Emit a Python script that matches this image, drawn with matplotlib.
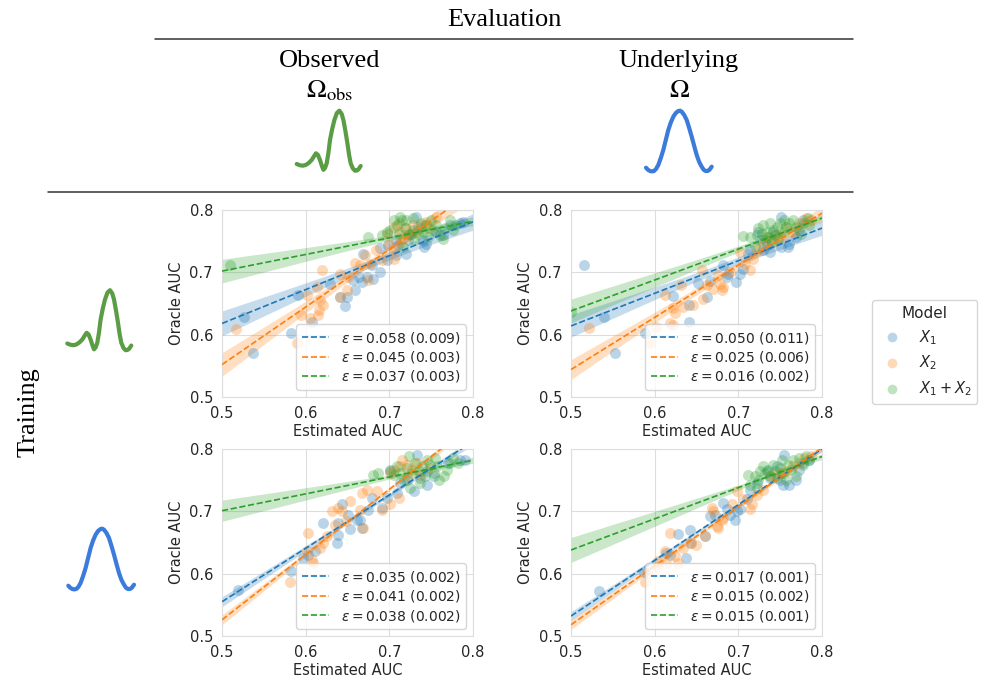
import numpy as np
import matplotlib
matplotlib.use('Agg')
import matplotlib.pyplot as plt
import seaborn as sns
from matplotlib.lines import Line2D

sns.set_style('whitegrid')
plt.rcParams['font.family'] = ['DejaVu Sans']

W, H = 989, 682

# ---- scatter data: estimated AUC (x) vs oracle AUC (y) per panel / model ----
# top-left: train observed, eval observed
tl_x1_est = [0.526, 0.537, 0.583, 0.591, 0.608, 0.629, 0.641, 0.647, 0.649, 0.657, 0.659, 0.664, 0.667,
             0.669, 0.673, 0.679, 0.681, 0.689, 0.689, 0.697, 0.699, 0.708, 0.708, 0.710, 0.720, 0.722,
             0.726, 0.732, 0.734, 0.740, 0.742, 0.744, 0.756, 0.764, 0.772, 0.784, 0.788]
tl_x1_orc = [0.628, 0.571, 0.602, 0.664, 0.620, 0.682, 0.661, 0.646, 0.661, 0.687, 0.671, 0.693, 0.685,
             0.730, 0.693, 0.712, 0.690, 0.701, 0.739, 0.720, 0.744, 0.728, 0.752, 0.744, 0.730, 0.752,
             0.762, 0.789, 0.773, 0.752, 0.741, 0.746, 0.765, 0.760, 0.776, 0.779, 0.781]
tl_x2_est = [0.517, 0.590, 0.594, 0.601, 0.605, 0.615, 0.616, 0.617, 0.620, 0.621, 0.613, 0.641, 0.641,
             0.649, 0.651, 0.659, 0.665, 0.671, 0.675, 0.677, 0.684, 0.691, 0.697, 0.700, 0.705, 0.706,
             0.706, 0.711, 0.713, 0.713, 0.716, 0.720, 0.722, 0.728, 0.732, 0.738, 0.744, 0.748, 0.756]
tl_x2_orc = [0.609, 0.586, 0.631, 0.663, 0.626, 0.631, 0.639, 0.655, 0.704, 0.647, 0.677, 0.698, 0.660,
             0.672, 0.693, 0.715, 0.712, 0.728, 0.688, 0.714, 0.736, 0.720, 0.762, 0.746, 0.773, 0.722,
             0.736, 0.779, 0.765, 0.749, 0.754, 0.771, 0.760, 0.776, 0.765, 0.776, 0.781, 0.771, 0.789]
tl_x12_est = [0.509, 0.675, 0.691, 0.697, 0.701, 0.705, 0.709, 0.711, 0.713, 0.715, 0.716, 0.719, 0.720,
              0.724, 0.728, 0.728, 0.730, 0.734, 0.738, 0.740, 0.744, 0.746, 0.750, 0.752, 0.756, 0.760,
              0.764, 0.766, 0.772, 0.776, 0.778]
tl_x12_orc = [0.712, 0.757, 0.760, 0.765, 0.768, 0.784, 0.776, 0.762, 0.789, 0.784, 0.741, 0.771, 0.784,
              0.762, 0.768, 0.787, 0.752, 0.762, 0.779, 0.765, 0.776, 0.757, 0.784, 0.768, 0.776, 0.760,
              0.754, 0.771, 0.784, 0.768, 0.776]

# top-right: train observed, eval underlying
tr_x1_est = [0.515, 0.540, 0.552, 0.588, 0.622, 0.641, 0.641, 0.652, 0.662, 0.666, 0.682, 0.686, 0.688,
             0.697, 0.702, 0.706, 0.712, 0.714, 0.724, 0.726, 0.730, 0.734, 0.738, 0.742, 0.751, 0.751,
             0.759, 0.761, 0.769, 0.773, 0.777]
tr_x1_orc = [0.712, 0.628, 0.571, 0.602, 0.662, 0.647, 0.620, 0.683, 0.661, 0.686, 0.712, 0.693, 0.698,
             0.685, 0.698, 0.706, 0.730, 0.736, 0.765, 0.752, 0.736, 0.744, 0.733, 0.765, 0.789, 0.741,
             0.741, 0.746, 0.757, 0.768, 0.784]
tr_x2_est = [0.522, 0.595, 0.602, 0.612, 0.618, 0.622, 0.624, 0.622, 0.632, 0.634, 0.646, 0.657, 0.658,
             0.662, 0.670, 0.676, 0.678, 0.680, 0.682, 0.690, 0.702, 0.708, 0.714, 0.717, 0.722, 0.730,
             0.734, 0.738, 0.746, 0.750, 0.757, 0.765, 0.773, 0.781, 0.787]
tr_x2_orc = [0.610, 0.586, 0.612, 0.663, 0.619, 0.615, 0.634, 0.642, 0.679, 0.645, 0.647, 0.704, 0.658,
             0.679, 0.674, 0.696, 0.682, 0.671, 0.677, 0.700, 0.733, 0.714, 0.704, 0.722, 0.736, 0.746,
             0.757, 0.752, 0.762, 0.757, 0.773, 0.765, 0.779, 0.787, 0.784]
tr_x12_est = [0.500, 0.706, 0.714, 0.720, 0.722, 0.724, 0.728, 0.730, 0.732, 0.734, 0.736, 0.738, 0.740,
              0.742, 0.744, 0.746, 0.748, 0.750, 0.754, 0.755, 0.757, 0.761, 0.765, 0.769, 0.775, 0.777,
              0.783, 0.785]
tr_x12_orc = [0.637, 0.758, 0.757, 0.743, 0.760, 0.771, 0.762, 0.776, 0.752, 0.765, 0.757, 0.779, 0.749,
              0.768, 0.760, 0.773, 0.754, 0.779, 0.765, 0.784, 0.773, 0.779, 0.784, 0.773, 0.762, 0.779,
              0.787, 0.776]

# bottom-left: train underlying, eval observed
bl_x1_est = [0.519, 0.583, 0.597, 0.603, 0.611, 0.621, 0.637, 0.639, 0.639, 0.643, 0.651, 0.653, 0.661,
             0.665, 0.667, 0.675, 0.679, 0.691, 0.697, 0.701, 0.709, 0.713, 0.721, 0.729, 0.733, 0.737,
             0.745, 0.745, 0.753, 0.770, 0.784, 0.790]
bl_x1_orc = [0.573, 0.604, 0.625, 0.630, 0.637, 0.682, 0.649, 0.662, 0.681, 0.712, 0.694, 0.671, 0.686,
             0.686, 0.673, 0.702, 0.721, 0.705, 0.721, 0.764, 0.729, 0.745, 0.751, 0.732, 0.791, 0.753,
             0.764, 0.743, 0.756, 0.778, 0.783, 0.782]
bl_x2_est = [0.581, 0.601, 0.603, 0.607, 0.609, 0.617, 0.621, 0.625, 0.631, 0.635, 0.639, 0.643, 0.648,
             0.653, 0.665, 0.667, 0.669, 0.673, 0.685, 0.691, 0.701, 0.701, 0.705, 0.711, 0.713, 0.715,
             0.721, 0.721, 0.727, 0.733, 0.737, 0.749]
bl_x2_orc = [0.587, 0.636, 0.666, 0.622, 0.617, 0.641, 0.649, 0.660, 0.700, 0.678, 0.705, 0.700, 0.684,
             0.716, 0.702, 0.730, 0.673, 0.735, 0.732, 0.702, 0.711, 0.761, 0.767, 0.721, 0.772, 0.783,
             0.775, 0.756, 0.767, 0.778, 0.759, 0.769]
bl_x12_est = [0.681, 0.687, 0.701, 0.705, 0.709, 0.713, 0.717, 0.721, 0.723, 0.725, 0.727, 0.731, 0.735,
              0.737, 0.739, 0.743, 0.745, 0.749, 0.753, 0.755, 0.757, 0.759, 0.765, 0.769, 0.772, 0.776,
              0.782]
bl_x12_orc = [0.759, 0.761, 0.767, 0.759, 0.772, 0.761, 0.751, 0.769, 0.788, 0.737, 0.761, 0.778, 0.764,
              0.745, 0.772, 0.756, 0.783, 0.775, 0.761, 0.786, 0.772, 0.751, 0.756, 0.767, 0.778, 0.786,
              0.778]

# bottom-right: train underlying, eval underlying
br_x1_est = [0.533, 0.587, 0.614, 0.618, 0.628, 0.638, 0.642, 0.644, 0.660, 0.666, 0.672, 0.682, 0.686,
             0.690, 0.696, 0.698, 0.702, 0.710, 0.714, 0.722, 0.734, 0.738, 0.746, 0.750, 0.753, 0.755,
             0.761, 0.769, 0.773, 0.777, 0.785]
br_x1_orc = [0.572, 0.603, 0.633, 0.630, 0.664, 0.625, 0.670, 0.649, 0.660, 0.692, 0.694, 0.713, 0.703,
             0.694, 0.686, 0.700, 0.703, 0.719, 0.735, 0.745, 0.764, 0.753, 0.772, 0.751, 0.743, 0.791,
             0.743, 0.751, 0.767, 0.778, 0.782]
br_x2_est = [0.589, 0.591, 0.603, 0.604, 0.612, 0.614, 0.618, 0.624, 0.628, 0.634, 0.642, 0.649, 0.660,
             0.668, 0.670, 0.674, 0.676, 0.680, 0.682, 0.692, 0.698, 0.706, 0.714, 0.716, 0.722, 0.730,
             0.738, 0.746, 0.751, 0.757, 0.765, 0.773, 0.779, 0.787]
br_x2_orc = [0.587, 0.601, 0.611, 0.620, 0.636, 0.617, 0.665, 0.628, 0.617, 0.641, 0.649, 0.646, 0.660,
             0.705, 0.700, 0.676, 0.673, 0.686, 0.689, 0.711, 0.732, 0.719, 0.703, 0.711, 0.727, 0.735,
             0.756, 0.759, 0.761, 0.764, 0.772, 0.778, 0.786, 0.788]
br_x12_est = [0.712, 0.714, 0.720, 0.722, 0.724, 0.726, 0.730, 0.732, 0.736, 0.738, 0.742, 0.744, 0.746,
              0.750, 0.752, 0.753, 0.757, 0.759, 0.763, 0.765, 0.769, 0.773, 0.777, 0.781, 0.785]
br_x12_orc = [0.759, 0.743, 0.756, 0.737, 0.751, 0.764, 0.772, 0.761, 0.767, 0.756, 0.775, 0.764, 0.753,
              0.770, 0.783, 0.761, 0.751, 0.775, 0.767, 0.783, 0.756, 0.786, 0.775, 0.788, 0.783]

# regression lines: oracle AUC at estimated 0.5 and 0.8 (X1, X2, X1+X2)
tl_fit = [(0.618, 0.781), (0.552, 0.829), (0.702, 0.782)]
tr_fit = [(0.614, 0.771), (0.544, 0.795), (0.638, 0.787)]
bl_fit = [(0.555, 0.812), (0.526, 0.840), (0.701, 0.782)]
br_fit = [(0.532, 0.800), (0.518, 0.802), (0.638, 0.788)]
# half width of the confidence band at estimated AUC 0.5
tl_band = [0.020, 0.019, 0.019]
tr_band = [0.018, 0.016, 0.019]
bl_band = [0.008, 0.008, 0.017]
br_band = [0.007, 0.0075, 0.020]

tl_eps = ['0.058 (0.009)', '0.045 (0.003)', '0.037 (0.003)']
tr_eps = ['0.050 (0.011)', '0.025 (0.006)', '0.016 (0.002)']
bl_eps = ['0.035 (0.002)', '0.041 (0.002)', '0.038 (0.002)']
br_eps = ['0.017 (0.001)', '0.015 (0.002)', '0.015 (0.001)']

models = ['$X_1$', '$X_2$', '$X_1 + X_2$']
ticks = [0.5, 0.6, 0.7, 0.8]

# density icons (pixel offsets, height above baseline)
bimodal_x = [0, 3, 6, 9, 12, 15, 17.5, 19.3, 21.3, 23.3, 25.2, 26.7, 28.3, 30, 31.7, 33.3, 35.5, 37.7,
             40.2, 42.7, 45.0, 46.7, 48.7, 50.7, 52.4, 54, 56.2, 58.3, 60, 61.7, 64]
bimodal_h = [7, 5.8, 5.3, 6, 8, 11, 15, 17.7, 16, 11, 5, 1.2, 3, 7.7, 18, 31, 42, 51,
             58, 60.3, 57, 51, 40, 27.7, 16, 7.7, 2.5, 0.3, 0.5, 1.5, 5]
bell_x = [0, 2, 4, 6, 8, 10, 12.3, 14.8, 17.3, 19.8, 22.3, 24.8, 27.3, 29.8, 32.3, 34, 35.7, 38.2,
          40.7, 43.2, 45.7, 48.2, 50.7, 53.2, 55.7, 57.7, 59.7, 61.5, 63.3, 65.7]
bell_h = [4.3, 2.2, 1, 0.6, 1, 3, 7, 14, 22, 32, 42, 49.5, 55.3, 59, 61, 61.3, 60.3, 57,
          52, 44, 35.3, 26, 17, 10, 5.3, 2.2, 1, 1, 2, 5.3]

colors = ['#1f77b4', '#ff7f0e', '#2ca02c']
green_icon = '#5b9d45'
blue_icon = '#3b7bdb'


def px_rect(left, top, right, bottom):
    return [left / W, 1 - bottom / H, (right - left) / W, (bottom - top) / H]


def draw_panel(ax, pts, fits, bands, eps):
    xs = np.linspace(0.5, 0.8, 200)
    for (x, y), (f0, f1), b, e, c in zip(pts, fits, bands, eps, colors):
        x = np.asarray(x)
        y = np.asarray(y)
        ax.scatter(x, y, s=62, color=c, alpha=0.3, linewidths=0, zorder=2)
        line = f0 + (f1 - f0) * (xs - 0.5) / 0.3
        xm = x.mean()
        sxx = ((x - xm) ** 2).sum()
        shape = np.sqrt(1 / len(x) + (xs - xm) ** 2 / sxx)
        hw = b * shape / shape[0]
        ax.fill_between(xs, line - hw, line + hw, color=c, alpha=0.25, lw=0, zorder=1)
        ax.plot(xs, line, ls='--', color=c, lw=1.2, zorder=3,
                label=r'$\varepsilon = %s$ %s' % tuple(e.split(' ')))
    ax.set_xlim(0.5, 0.8)
    ax.set_ylim(0.5, 0.8)
    ax.set_xticks(ticks)
    ax.set_yticks(ticks)
    ax.tick_params(labelsize=10.5, pad=3)
    ax.set_xlabel('Estimated AUC', fontsize=10.5, labelpad=2)
    ax.set_ylabel('Oracle AUC', fontsize=10.5)
    for s in ax.spines.values():
        s.set_color('#dddddd')
    ax.grid(color='#dddddd')
    ax.legend(loc='lower right', fontsize=10, frameon=True, labelspacing=0.25)


fig = plt.figure(figsize=(W / 100, H / 100), dpi=100)

# overlay in pixel coordinates for headers, rules and icons
ov = fig.add_axes([0, 0, 1, 1], zorder=-1)
ov.set_xlim(0, W)
ov.set_ylim(H, 0)
ov.axis('off')

serif = dict(family='Liberation Serif', fontsize=19, ha='center', va='baseline', color='black')
ov.text(504, 26, 'Evaluation', **serif)
ov.plot([155, 853], [39, 39], color='#333333', lw=1.1)
ov.text(330, 67, 'Observed', **serif)
ov.text(330, 97, r'$\Omega_{\mathrm{obs}}$', math_fontfamily='stix', **serif)
ov.text(679, 67, 'Underlying', **serif)
ov.text(679, 97, r'$\Omega$', math_fontfamily='stix', **serif)
ov.plot([48, 853], [192, 192], color='#333333', lw=1.1)
ov.text(29, 412, 'Training', family='Liberation Serif', fontsize=19, rotation=90,
        ha='center', va='center', color='black')

icon_style = dict(lw=3, solid_capstyle='round', solid_joinstyle='round')
for x0, base, cx, ch, col in [(296.7, 171, bimodal_x, bimodal_h, green_icon),
                               (646, 172, bell_x, bell_h, blue_icon),
                               (67.3, 350.5, bimodal_x, bimodal_h, green_icon),
                               (68.3, 590, bell_x, bell_h, blue_icon)]:
    ov.plot(x0 + np.asarray(cx), base - np.asarray(ch), color=col, **icon_style)

panels = [
    (px_rect(222, 210, 473, 397), [(tl_x1_est, tl_x1_orc), (tl_x2_est, tl_x2_orc), (tl_x12_est, tl_x12_orc)],
     tl_fit, tl_band, tl_eps),
    (px_rect(571, 210, 822, 397), [(tr_x1_est, tr_x1_orc), (tr_x2_est, tr_x2_orc), (tr_x12_est, tr_x12_orc)],
     tr_fit, tr_band, tr_eps),
    (px_rect(222, 449, 473, 636), [(bl_x1_est, bl_x1_orc), (bl_x2_est, bl_x2_orc), (bl_x12_est, bl_x12_orc)],
     bl_fit, bl_band, bl_eps),
    (px_rect(571, 449, 822, 636), [(br_x1_est, br_x1_orc), (br_x2_est, br_x2_orc), (br_x12_est, br_x12_orc)],
     br_fit, br_band, br_eps),
]
for rect, pts, fits, bands, eps in panels:
    ax = fig.add_axes(rect)
    draw_panel(ax, pts, fits, bands, eps)

handles = [Line2D([], [], ls='', marker='o', markersize=7, color=c, alpha=0.3, markeredgewidth=0)
           for c in colors]
fig.legend(handles, models, title='Model', loc='center left', bbox_to_anchor=(872 / W, 1 - 352 / H),
           borderaxespad=0, fontsize=10.5, title_fontsize=11, frameon=True)

fig.savefig('out.png', dpi=100)
